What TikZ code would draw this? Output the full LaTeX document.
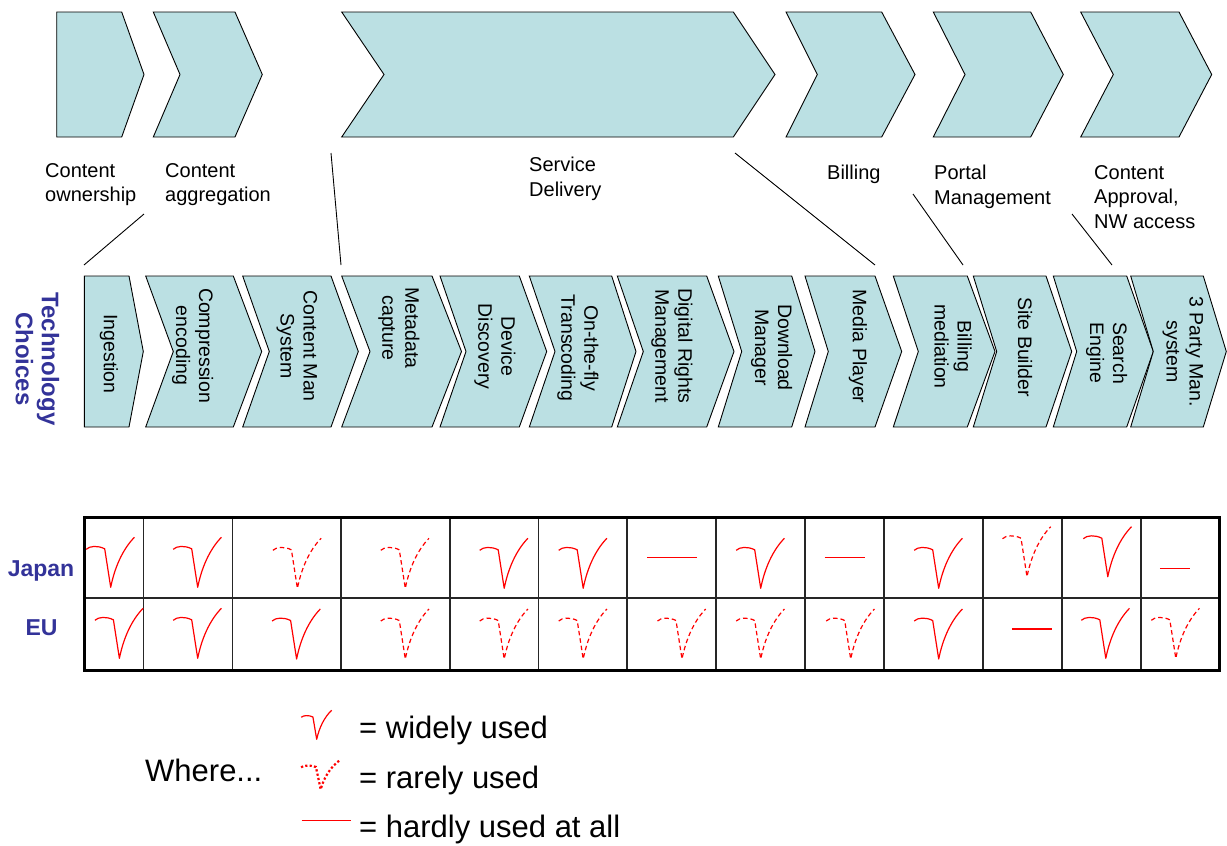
\documentclass[tikz,border=0pt]{standalone}
\usepackage{fontspec}
\setmainfont{Liberation Sans}
\definecolor{chevfill}{HTML}{BBE0E3}
\definecolor{techblue}{HTML}{333399}
\definecolor{tickred}{HTML}{FF0000}

% chevron outline: top-left x, notch x, top-right x, tip x, top y, bottom y
\newcommand\chevshape[6]{%
  \filldraw[chev] (#1,#5) -- (#3,#5) -- (#4,{(#5+#6)/2}) -- (#3,#6)
    -- (#1,#6) -- (#2,{(#5+#6)/2}) -- cycle;}

\tikzset{
  chev/.style={fill=chevfill, draw=black, line width=0.9pt, line join=miter},
  toplabel/.style={anchor=north west, align=left, inner sep=0pt,
    font=\fontsize{20}{24.5}\selectfont},
  vlabel/.style={rotate=-90, align=center, inner sep=0pt,
    font=\fontsize{19.5}{23}\selectfont},
  techlabel/.style={rotate=-90, align=center, inner sep=0pt, text=techblue,
    font=\bfseries\fontsize{24}{26}\selectfont},
  rowlabel/.style={anchor=base, inner sep=0pt, text=techblue,
    font=\bfseries\fontsize{23}{26}\selectfont},
  leader/.style={draw=black, line width=0.9pt},
  gridline/.style={draw=black!85, line width=1.7pt},
  outerframe/.style={draw=black, line width=3pt},
  wide/.style={draw=tickred, line width=1.2pt, line join=round},
  rare/.style={wide, dash pattern=on 4.5pt off 3pt},
  legrare/.style={draw=tickred, line width=2.2pt, dash pattern=on 2.2pt off 2.2pt},
  hardly/.style={draw=tickred, line width=1.4pt},
  legtext/.style={anchor=base west, inner sep=0pt, font=\fontsize{31}{36}\selectfont},
  pics/vmark/.style={code={
    \draw[#1] (-24.5,-38) .. controls (-21,-41.5) and (-13,-42) .. (-6,-38.5)
      -- (0,0) .. controls (4,-20) and (12,-38) .. (23.7,-50);}},
}

\begin{document}
\begin{tikzpicture}[x=1pt,y=-1pt]
\useasboundingbox (0,0) rectangle (1227,846);

% ---- value chain (top row) ----
\chevshape{56.7}{56.7}{121.7}{144}{12}{137}
\chevshape{153.3}{180}{235}{262.3}{12}{137}
\chevshape{341.7}{384}{733.3}{775}{12}{137}
\chevshape{786}{817.3}{881.7}{915}{12}{137}
\chevshape{933.3}{965}{1030.7}{1063.3}{12}{137}
\chevshape{1080.7}{1113.3}{1179}{1211.7}{12}{137}

\node[toplabel] (own) at (45,163) {Content\\ownership};
\node[toplabel] (aggr) at (165,163) {Content\\aggregation};
\node[toplabel] (serv) at (529,157) {Service\\Delivery};
\node[toplabel] (bill) at (827,165) {Billing};
\node[toplabel] (portal) at (934,165) {Portal\\Management};
\node[toplabel] (approv) at (1094,165) {Content\\Approval,\\NW access};

% ---- technology chain (second row) ----
\chevshape{84.3}{84.3}{129}{143.3}{276}{427}
\chevshape{145.7}{173.3}{233.3}{261.7}{276}{427}
\chevshape{242.7}{269.3}{331}{358.3}{276}{427}
\chevshape{341.7}{370}{432}{461.5}{276}{427}
\chevshape{440}{466}{519.3}{546.7}{276}{427}
\chevshape{529.3}{555}{611.7}{636}{276}{427}
\chevshape{617.3}{643.3}{706.7}{734}{276}{427}
\chevshape{718.3}{741.7}{791.7}{815}{276}{427}
\chevshape{805}{828.3}{875}{901.7}{276}{427}
\chevshape{893.3}{918.3}{967.3}{995}{276}{427}
\chevshape{973.3}{996.7}{1046}{1071.7}{276}{427}
\chevshape{1053.3}{1076.7}{1126.7}{1153.3}{276}{427}
\chevshape{1130.7}{1153.3}{1203.3}{1226.3}{276}{427}

\node[vlabel] (ingest) at (109,354) {Ingestion};
\node[vlabel] (compress) at (192.6,345.5) {Compression\\encoding};
\node[vlabel] (cms) at (297,346) {Content Man\\System};
\node[vlabel] (meta) at (399,328) {Metadata\\capture};
\node[vlabel] (device) at (495,346.5) {Device\\Discovery};
\node[vlabel] (transcode) at (578,348) {On-the-fly\\Transcoding};
\node[vlabel] (drm) at (672,346) {Digital Rights\\Management};
\node[vlabel] (download) at (771.7,347.5) {Download\\Manager};
\node[vlabel] (player) at (858,346.5) {Media Player};
\node[vlabel] (billmed) at (953,346.5) {Billing\\mediation};
\node[vlabel] (site) at (1025,347) {Site Builder};
\node[vlabel] (search) at (1106.7,353) {Search\\Engine};
\node[vlabel] (party) at (1183,351.5) {3 Party Man.\\system};

\node[techlabel] (tech) at (37.5,359) {Technology\\Choices};

% ---- leader lines between the two chains ----
\coordinate (la1) at (144,214);   \coordinate (lb1) at (84,265);
\coordinate (la2) at (331,153);   \coordinate (lb2) at (341,265);
\coordinate (la3) at (735,153);   \coordinate (lb3) at (875,265);
\coordinate (la4) at (913,194);   \coordinate (lb4) at (963,265);
\coordinate (la5) at (1072,214);  \coordinate (lb5) at (1112,265);
\foreach \i in {1,...,5} \draw[leader] (la\i) -- (lb\i);

% ---- usage table ----
\foreach \x in {143.5,232.5,341,450,538.5,627,716,805,884,983,1062,1141}
  \draw[gridline] (\x,517.7) -- (\x,670.7);
\draw[gridline] (84,598.3) -- (1219,598.3);
\draw[outerframe] (84,517.7) rectangle (1219,670.7);

\node[rowlabel] (japan) at (41,576.7) {Japan};
\node[rowlabel] (eu) at (41.5,635) {EU};

% Japan row
\pic at (110.7,587.3) {vmark=wide};
\pic at (197.7,587.3) {vmark=wide};
\pic at (297.4,588.3) {vmark=rare};
\pic at (405.3,588.3) {vmark=rare};
\pic at (504.2,588.3) {vmark=wide};
\pic at (583.2,588.3) {vmark=wide};
\draw[hardly] (647.2,557.7) -- (696.8,557.7);
\pic at (760.7,588.3) {vmark=wide};
\draw[hardly] (824.7,557.7) -- (864.7,557.7);
\pic at (938.7,588.3) {vmark=wide};
\pic at (1027,576.7) {vmark=rare};
\pic at (1107.8,576.7) {vmark=wide};
\draw[hardly] (1159.8,568.3) -- (1189.8,568.3);

% EU row
\pic at (119.4,658.3) {vmark=wide};
\pic at (197.7,658.3) {vmark=wide};
\pic at (296.6,659) {vmark=wide};
\pic at (405.3,659) {vmark=rare};
\pic at (504.2,659) {vmark=rare};
\pic at (583.2,659) {vmark=rare};
\pic at (682,659) {vmark=rare};
\pic at (760.7,659) {vmark=rare};
\pic at (850.7,659) {vmark=rare};
\pic at (938.7,659) {vmark=wide};
\draw[hardly] (1011.8,629) -- (1051.8,629);
\pic at (1105.8,658.3) {vmark=wide};
\pic at (1175.8,658.3) {vmark=rare};

% ---- legend ----
\node[legtext] (where) at (145,781.7) {Where...};
\pic[xscale=0.63,yscale=0.58] at (316.7,739.3) {vmark=wide};
\pic[xscale=0.8,yscale=0.58] at (320.7,789.3) {vmark=legrare};
\draw[hardly] (301.7,820.7) -- (350.7,820.7);
\node[legtext] (kwide) at (359,738.3) {= widely used};
\node[legtext] (krare) at (359,788) {= rarely used};
\node[legtext] (khard) at (359,837.5) {= hardly used at all};
\end{tikzpicture}
\end{document}
